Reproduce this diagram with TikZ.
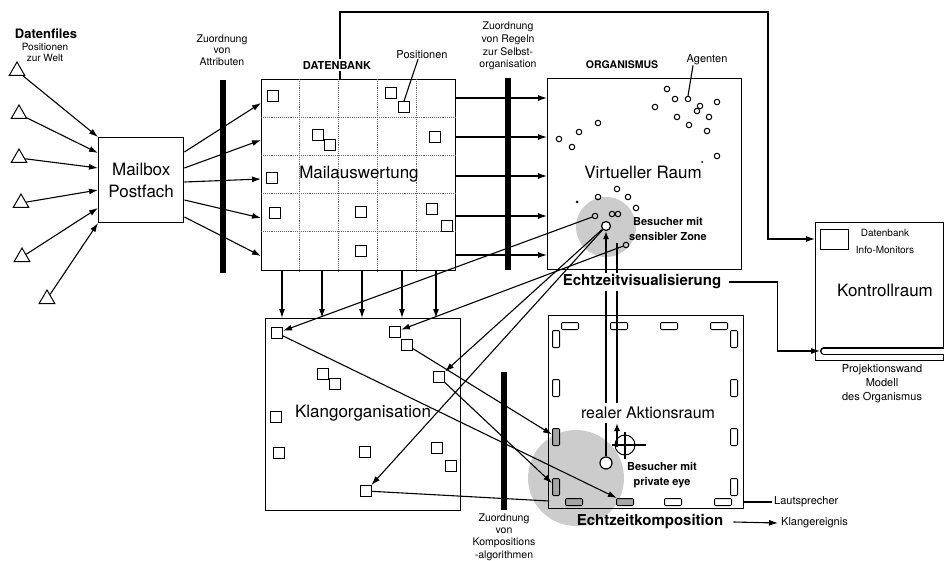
\documentclass[tikz,border=0pt]{standalone}
\usepackage{fontspec}
\setmainfont{TeX Gyre Heros}
\usetikzlibrary{arrows.meta,shapes.geometric,calc}
\begin{document}
\begin{tikzpicture}[x=1pt,y=-1pt,
  ln/.style={line width=1.1pt},
  arr/.style={line width=1.1pt, -{Latex[length=9pt,width=6pt]}},
  box/.style={draw, line width=1.4pt, inner sep=0pt, anchor=north west},
  bar/.style={line width=6pt},
  vis/.style={line width=1.7pt},
  grid/.style={densely dotted, line width=0.9pt, black!60},
  sq/.style={draw, line width=1pt, minimum size=11pt, inner sep=0pt},
  ag/.style={draw, circle, line width=1pt, minimum size=5.5pt, inner sep=0pt},
  dot/.style={fill, circle, minimum size=3pt, inner sep=0pt},
  tri/.style={draw, regular polygon, regular polygon sides=3, minimum size=18pt, line width=1pt, inner sep=0pt},
  spkh/.style={draw, rounded corners=1pt, minimum width=17pt, minimum height=7pt, line width=1pt, inner sep=0pt},
  spkv/.style={draw, rounded corners=1pt, minimum width=7pt, minimum height=17pt, line width=1pt, inner sep=0pt},
  big/.style={font=\fontsize{17}{22}\selectfont, inner sep=1pt, align=center},
  midb/.style={font=\bfseries\fontsize{15}{18}\selectfont, inner sep=2pt},
  sm/.style={font=\fontsize{11}{12}\selectfont, inner sep=0pt, align=center},
  smb/.style={font=\bfseries\fontsize{11}{15}\selectfont, inner sep=0pt, align=center},
  zone/.style={fill=black!20},
]
\useasboundingbox (0,0) rectangle (944,561);

% gray zones
\fill[zone] (606,227) circle (30pt);
\fill[zone] (576,478) circle (48pt);

% main boxes
\node[box, minimum width=85pt, minimum height=85pt] (mb) at (98,137) {};
\node[box, minimum width=194pt, minimum height=191pt] (db) at (261,79) {};
\node[box, minimum width=194pt, minimum height=191pt] (org) at (547,78) {};
\node[box, minimum width=195pt, minimum height=192pt] (kl) at (265,318) {};
\node[box, minimum width=195pt, minimum height=193pt] (ak) at (548,315) {};
\node[box, minimum width=128pt, minimum height=138pt] (kr) at (815,222) {};

% grid in Datenbank
\foreach \i in {1,...,4} {
  \draw[grid] ($(db.north west)+(38.8*\i,0)$) -- ($(db.south west)+(38.8*\i,0)$);
  \draw[grid] ($(db.north west)+(0,38.2*\i)$) -- ($(db.north east)+(0,38.2*\i)$);
}

% bars
\draw[bar] (223,80) -- (223,273);
\draw[bar] (508,78) -- (508,270);
\draw[bar] (504,372) -- (504,510);

% triangles (data files)
\node[tri] (tr1) at (17,71) {};
\node[tri] (tr2) at (19,114) {};
\node[tri] (tr3) at (19,158) {};
\node[tri] (tr4) at (21,203) {};
\node[tri] (tr5) at (22,257) {};
\node[tri] (tr6) at (47,299) {};
\draw[arr] (tr1) -- (mb.north west);
\draw[arr] (tr2) -- ([yshift=-16pt]mb.north west);
\draw[arr] (tr3) -- ([yshift=-31pt]mb.north west);
\draw[arr] (tr4) -- ([yshift=-53pt]mb.north west);
\draw[arr] (tr5) -- ([yshift=-71pt]mb.north west);
\draw[arr] (tr6) -- ([yshift=-86pt]mb.north west);

% Mailbox -> Datenbank
\draw[arr] ([yshift=-15pt]mb.north east) -- ([yshift=-24pt]db.north west);
\draw[arr] ([yshift=-31pt]mb.north east) -- ([yshift=-61pt]db.north west);
\draw[arr] ([yshift=-45pt]mb.north east) -- ([yshift=-100pt]db.north west);
\draw[arr] ([yshift=-63pt]mb.north east) -- ([yshift=-139pt]db.north west);
\draw[arr] ([yshift=-80pt]mb.north east) -- ([yshift=-177pt]db.north west);

% Datenbank -> Organismus
\draw[arr] ([yshift=-19pt]db.north east) -- ([yshift=-20pt]org.north west);
\draw[arr] ([yshift=-58pt]db.north east) -- ([yshift=-59pt]org.north west);
\draw[arr] ([yshift=-97pt]db.north east) -- ([yshift=-98pt]org.north west);
\draw[arr] ([yshift=-137pt]db.north east) -- ([yshift=-138pt]org.north west);
\draw[arr] ([yshift=-176pt]db.north east) -- ([yshift=-177pt]org.north west);

% Datenbank -> Klangorganisation
\draw[arr] ([xshift=21pt]db.south west) -- ([xshift=17pt]kl.north west);
\draw[arr] ([xshift=61pt]db.south west) -- ([xshift=57pt]kl.north west);
\draw[arr] ([xshift=101pt]db.south west) -- ([xshift=97pt]kl.north west);
\draw[arr] ([xshift=141pt]db.south west) -- ([xshift=137pt]kl.north west);
\draw[arr] ([xshift=175pt]db.south west) -- ([xshift=171pt]kl.north west);

% top connector Datenbank -> Kontrollraum
\draw[arr] ([xshift=79pt]db.north west) -- ++(0,-67) -- ++(428,0) |- ([yshift=-17pt]kr.north west);

% squares in Datenbank
\node[sq] (d1) at (273,96) {};
\node[sq] (d2) at (391,93) {};
\node[sq] (d3) at (404,107) {};
\node[sq] (d4) at (318,135) {};
\node[sq] (d5) at (330,145) {};
\node[sq] (d6) at (435,137) {};
\node[sq] (d7) at (272,178) {};
\node[sq] (d8) at (275,213) {};
\node[sq] (d9) at (361,212) {};
\node[sq] (d10) at (432,209) {};
\node[sq] (d11) at (447,226) {};
\node[sq] (d12) at (361,251) {};

% squares in Klangorganisation
\node[sq] (k1) at (277,333) {};
\node[sq] (k2) at (395,332) {};
\node[sq] (k3) at (407,345) {};
\node[sq] (k4) at (323,374) {};
\node[sq] (k5) at (335,384) {};
\node[sq] (k6) at (439,377) {};
\node[sq] (k7) at (276,417) {};
\node[sq] (k8) at (279,453) {};
\node[sq] (k9) at (365,452) {};
\node[sq] (k10) at (437,448) {};
\node[sq] (k11) at (451,466) {};
\node[sq] (k12) at (366,491) {};

% agents
\foreach \x/\y [count=\i] in {667/89, 675/99, 688/99, 717/102, 655/107, 700/106, 697/111, 677/117, 709/117, 689/125, 707/131, 717/156, 598/123, 579/132, 559/139, 572/147, 617/189, 598/197, 628/197, 636/208, 612/214, 618/214}
  \node[ag] (a\i) at (\x,\y) {};
\node[ag] (asrc) at (595,216) {};
\node[ag] (vs) at (626,245) {};
\node[dot] (dt1) at (577,202) {};
\node[dot, minimum size=2pt] (dt2) at (702,162) {};

% visitors
\node[circle, draw, fill=white, line width=1.2pt, minimum size=9pt, inner sep=0pt] (vv) at (606,226) {};
\node[circle, draw, fill=white, line width=1.2pt, minimum size=12pt, inner sep=0pt] (rv) at (606,463) {};
\coordinate (b1) at (617,243);
\coordinate (b2) at (617,405);
\draw[vis, -{Latex[length=8pt,width=6pt]}] (rv) -- (vv);
\draw[vis] (b1) -- (b2);

% speakers
\node[spkh] (st1) at (570,326) {};
\node[spkh] (st2) at (619,326) {};
\node[spkh] (st3) at (669,326) {};
\node[spkh] (st4) at (719,326) {};
\node[spkv] (sl1) at (556,339) {};
\node[spkv] (sl2) at (556,388) {};
\node[spkv, fill=black!35] (sl3) at (556,437) {};
\node[spkv, fill=black!35] (sl4) at (556,487) {};
\node[spkv] (sr1) at (734,339) {};
\node[spkv] (sr2) at (734,388) {};
\node[spkv] (sr3) at (734,437) {};
\node[spkv] (sr4) at (734,487) {};
\node[spkh, fill=black!35] (sb1) at (574,502) {};
\node[spkh, fill=black!35] (sb2) at (625,502) {};
\node[spkh] (sb3) at (673,502) {};
\node[spkh] (sb4) at (723,502) {};

% Kontrollraum contents
\node[draw, line width=1pt, minimum width=28pt, minimum height=20pt, anchor=north west, inner sep=0pt] (mon) at (820,229) {};
\draw[line width=8pt, line cap=round] (824,351) -- (950,351);
\draw[white, line width=5pt, line cap=round] (824,351) -- (950,351);
\coordinate (proj) at (820,351);

% labels
\node[font=\bfseries\fontsize{13}{14}\selectfont] (tdf) at (46,34) {Datenfiles};
\node[sm, font=\fontsize{10}{11}\selectfont] (tpz) at (45,52) {Positionen\\zur Welt};
\node[sm, font=\fontsize{10.5}{11.5}\selectfont] (tza) at (222,50) {Zuordnung\\von\\Attributen};
\node[big] (tmb) at (mb.center) {Mailbox\\Postfach};
\node[smb, fill=white, inner sep=2pt, font=\bfseries\fontsize{11}{12}\selectfont] (tdb) at (337,65) {DATENBANK};
\node[sm] (tpos) at (422,55) {Positionen};
\draw[ln] ([xshift=-4pt]tpos.south) -- (d3.north);
\node[big] (tma) at (359,174) {Mailauswertung};
\node[sm, font=\fontsize{10.5}{12.7}\selectfont] (tzr) at (508,46) {Zuordnung\\von Regeln\\zur Selbst-\\organisation};
\node[smb, font=\bfseries\fontsize{10.5}{12}\selectfont] (torg) at (622,65) {ORGANISMUS};
\node[sm] (tag) at (707,60) {Agenten};
\draw[ln] ([xshift=-14pt]tag.south) -- (a3.north);
\node[big] (tvr) at (643,172) {Virtueller Raum};
\node[smb] (tbs) at (668,229) {Besucher mit\\sensibler Zone};
\node[midb, fill=white] (tev) at (642,282) {Echtzeitvisualisierung};
\node[sm, font=\fontsize{10}{17}\selectfont] (tdbm) at (885,241) {Datenbank\\Info-Monitors};
\node[big] (tkr) at (885,290) {Kontrollraum};
\node[sm, font=\fontsize{11}{14}\selectfont] (tpw) at (882,384) {Projektionswand\\Modell\\des Organismus};
\node[big] (tko) at (363,413) {Klangorganisation};
\node[big, fill=white, inner sep=4pt, font=\fontsize{16}{18}\selectfont] (tra) at (648,413) {realer Aktionsraum};
\node[smb] (tbp) at (662,475) {Besucher mit\\private eye};
\node[sm, font=\fontsize{10.5}{12.3}\selectfont] (tzk) at (504,537) {Zuordnung\\von\\Kompositions\\-algorithmen};
\node[midb] (tek) at (650,522) {Echtzeitkomposition};
\node[sm, anchor=west] (tls) at (774,502) {Lautsprecher};
\node[sm, anchor=west] (tke) at (781,523) {Klangereignis};

% lower part of private-eye link and crosshair
\coordinate (b3) at (617,447);
\coordinate (b4) at (617,423);
\draw[vis, -{Latex[length=8pt,width=6pt]}] (b3) -- (b4);
\node[circle, draw, line width=1pt, minimum size=20pt, inner sep=0pt] (ch) at (625,445) {};
\draw[ln] ([xshift=-3pt]ch.west) -- ([xshift=10pt]ch.east);
\draw[ln] ([yshift=3pt]ch.north) -- ([yshift=-3pt]ch.south);

% connectors from labels
\draw[arr] ([xshift=6pt]tev.east) -- ++(48,0) |- (proj);
\draw[ln] ([yshift=-187pt]ak.north east) -- ([xshift=-2pt]tls.west);
\draw[arr] ([xshift=8pt]tek.east) -- ([xshift=-3pt]tke.west);

% visitor -> Klangorganisation
\draw[arr] (asrc) -- (k1);
\draw[arr] (vs) -- (k2);
\draw[arr] (vv) -- (k6);
\draw[arr] (vv) -- (k12);

% Klangorganisation -> speakers
\coordinate (kend) at (549,501);
\draw[arr] (k3) -- (sl3);
\draw[arr] (k6) -- (sl4);
\draw[arr] (k1) -- (sb2);
\draw[ln] (k12) -- (kend);
\end{tikzpicture}
\end{document}
